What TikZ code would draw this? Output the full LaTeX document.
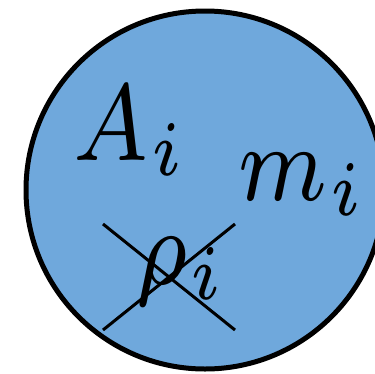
\documentclass[tikz,border=0pt]{standalone}
\definecolor{fillblue}{HTML}{6FA8DC}
\tikzset{
  ball/.style={circle, draw=black, line width=5pt, fill=fillblue, minimum size=358pt, inner sep=0pt},
  lbl/.style={inner sep=0pt, anchor=base west, font=\scriptsize, xscale=12.8, yscale=15.6, transform shape},
  crossline/.style={draw=black, line width=3pt}
}
\begin{document}
\begin{tikzpicture}[x=1pt,y=-1pt]
\useasboundingbox (0,0) rectangle (375,373);
\node[ball] (c) at (205,190) {};
\node[lbl] (a) at (70,160) {$A_i$};
\node[lbl] (m) at (235,200) {$m_i$};
\node[lbl] (r) at (133,284) {$\rho_i$};
\coordinate (p1) at (103,224);
\coordinate (p2) at (235,330);
\coordinate (p3) at (103,330);
\coordinate (p4) at (235,224);
\draw[crossline] (p1) -- (p2);
\draw[crossline] (p3) -- (p4);
\end{tikzpicture}
\end{document}
